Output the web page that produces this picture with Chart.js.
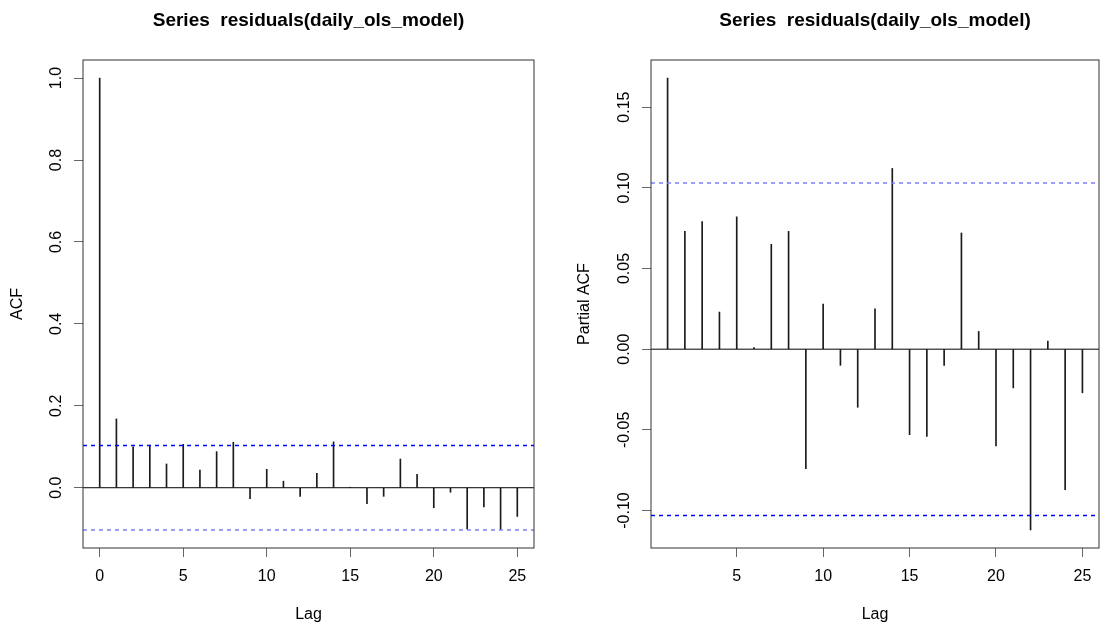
<!DOCTYPE html>
<html>
<head>
<meta charset="utf-8">
<script src="https://cdn.jsdelivr.net/npm/chart.js@4.4.0/dist/chart.umd.min.js"></script>
<style>
  body { margin: 0; background: #fff; width: 1102px; height: 626px; overflow: hidden; position: relative; }
  canvas { position: absolute; top: 0; }
  #acfChart { left: 0; }
  #pacfChart { left: 551px; }
</style>
</head>
<body>
<canvas id="acfChart" width="551" height="626"></canvas>
<canvas id="pacfChart" width="551" height="626"></canvas>
<script>
var titleText = 'Series  residuals(daily_ols_model)';

var acfLags = [0, 1, 2, 3, 4, 5, 6, 7, 8, 9, 10, 11, 12, 13, 14, 15, 16, 17, 18, 19, 20, 21, 22, 23, 24, 25];
var acfValues = [1.000, 0.168, 0.100, 0.104, 0.058, 0.106, 0.043, 0.088, 0.111, -0.027, 0.045, 0.016, -0.021,
                 0.035, 0.112, 0.001, -0.039, -0.021, 0.070, 0.033, -0.049, -0.011, -0.101, -0.047, -0.102, -0.070];

var pacfLags = [1, 2, 3, 4, 5, 6, 7, 8, 9, 10, 11, 12, 13, 14, 15, 16, 17, 18, 19, 20, 21, 22, 23, 24, 25];
var pacfValues = [0.168, 0.073, 0.079, 0.023, 0.082, 0.001, 0.065, 0.073, -0.074, 0.028, -0.010, -0.036, 0.025,
                  0.112, -0.053, -0.054, -0.010, 0.072, 0.011, -0.060, -0.024, -0.112, 0.005, -0.087, -0.027];

var ciBound = 0.103;

var acfXTicks = [0, 5, 10, 15, 20, 25];
var acfYTicks = [0, 0.2, 0.4, 0.6, 0.8, 1.0];
var pacfXTicks = [5, 10, 15, 20, 25];
var pacfYTicks = [-0.10, -0.05, 0, 0.05, 0.10, 0.15];

Chart.defaults.font.family = "'Liberation Sans', Arial, sans-serif";
Chart.defaults.color = '#000';

// R pads the axis ranges by 4% on each side
var padRange = (lo, hi) => {
    var d = (hi - lo) * 0.04;
    return [lo - d, hi + d];
};

// zero line, dashed confidence bounds and the box round the plot
var acfLines = {
    id: 'acfLines',
    afterDatasetsDraw(chart, args, opts) {
        var ctx = chart.ctx;
        var a = chart.chartArea;
        var y = chart.scales.y;
        ctx.save();
        ctx.strokeStyle = '#000';
        ctx.lineWidth = 1;
        var y0 = y.getPixelForValue(0);
        ctx.beginPath();
        ctx.moveTo(a.left, y0);
        ctx.lineTo(a.right, y0);
        ctx.stroke();

        ctx.setLineDash([4, 4]);
        [ciBound, -ciBound].forEach((c, i) => {
            var py = y.getPixelForValue(c);
            ctx.strokeStyle = opts.colors[i];
            ctx.lineWidth = 1.5;
            ctx.beginPath();
            ctx.moveTo(a.left, py);
            ctx.lineTo(a.right, py);
            ctx.stroke();
        });
        ctx.setLineDash([]);

        ctx.strokeStyle = '#333';
        ctx.lineWidth = 1;
        ctx.strokeRect(a.left, a.top, a.right - a.left, a.bottom - a.top);
        ctx.restore();
    }
};

function drawCorrelogram(id, lags, values, xTicks, yTicks, digits, yLabel, o) {
    var xr = padRange(Math.min(...lags), Math.max(...lags));
    var yr = padRange(Math.min(-ciBound, ...values), Math.max(ciBound, ...values));

    return new Chart(document.getElementById(id), {
        type: 'bar',
        data: {
            datasets: [{
                data: lags.map((l, i) => ({ x: l, y: values[i] })),
                backgroundColor: '#1a1a1a',
                borderWidth: 0,
                barThickness: 1,
            }],
        },
        options: {
            responsive: false,
            animation: false,
            devicePixelRatio: 1,
            layout: { padding: { left: 0, right: o.rightPad, top: 0, bottom: 0 } },
            plugins: {
                legend: { display: false },
                tooltip: { enabled: false },
                title: {
                    display: true,
                    text: titleText,
                    fullSize: false,
                    color: '#000',
                    font: { size: 19, weight: 'bold' },
                    padding: { top: 9.4, bottom: 27.8 },
                },
                acfLines: { colors: o.ciColors },
            },
            scales: {
                x: {
                    type: 'linear',
                    min: xr[0],
                    max: xr[1],
                    offset: false,
                    grid: { offset: false, drawOnChartArea: false, drawTicks: true, tickLength: 9, color: '#666' },
                    border: { display: false },
                    afterBuildTicks: (s) => { s.ticks = xTicks.map((v) => ({ value: v })); },
                    afterFit: (s) => { s.height = 78; },
                    ticks: {
                        font: { size: 16 },
                        padding: 10.4,
                        maxRotation: 0,
                        autoSkip: false,
                        callback: (v) => String(v),
                    },
                    title: { display: true, text: 'Lag', font: { size: 16 }, padding: { top: 0, bottom: 1.4 } },
                },
                y: {
                    min: yr[0],
                    max: yr[1],
                    grid: { drawOnChartArea: false, drawTicks: true, tickLength: 9, color: '#666' },
                    border: { display: false },
                    afterBuildTicks: (s) => { s.ticks = yTicks.map((v) => ({ value: v })); },
                    afterFit: (s) => { s.width = o.yWidth; },
                    ticks: {
                        font: { size: 16 },
                        minRotation: 90,
                        maxRotation: 90,
                        crossAlign: 'center',
                        padding: o.tickPad,
                        autoSkip: false,
                        callback: (v) => v.toFixed(digits),
                    },
                    title: { display: true, text: yLabel, font: { size: 16 }, padding: { top: o.titlePad, bottom: 0 } },
                },
            },
        },
        plugins: [acfLines],
    });
}

drawCorrelogram('acfChart', acfLags, acfValues, acfXTicks, acfYTicks, 1, 'ACF',
    { rightPad: 17, yWidth: 83, tickPad: 6.2, titlePad: 8.4, ciColors: ['#0000ff', '#8080ff'] });

drawCorrelogram('pacfChart', pacfLags, pacfValues, pacfXTicks, pacfYTicks, 2, 'Partial ACF',
    { rightPad: 3, yWidth: 100, tickPad: -1, titlePad: 24.4, ciColors: ['#8080ff', '#0000ff'] });
</script>
</body>
</html>
